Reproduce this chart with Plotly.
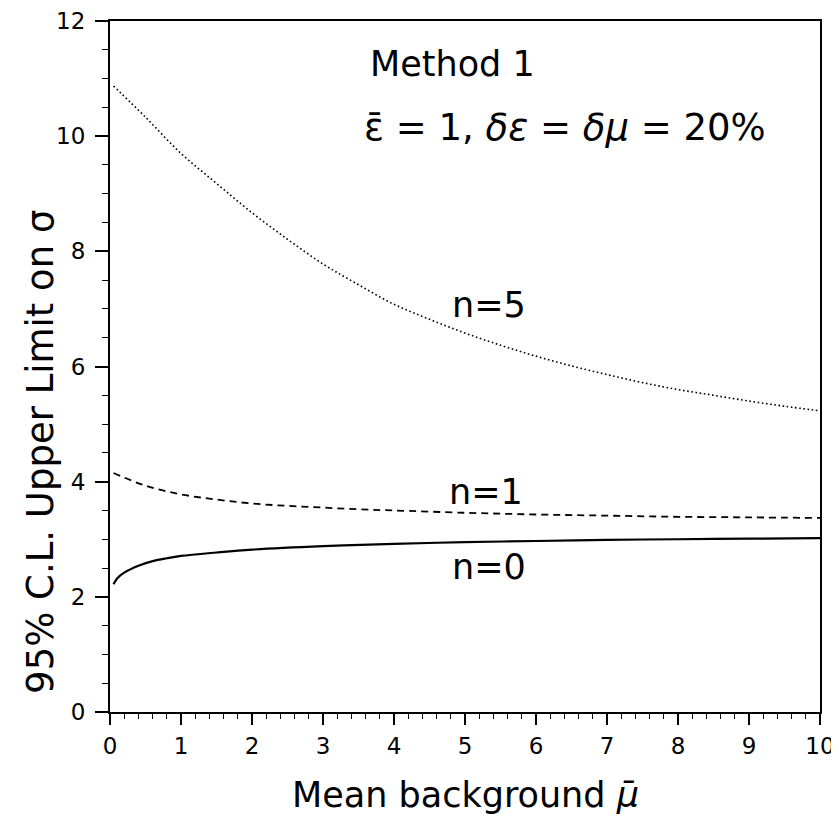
import plotly.graph_objects as go

# Mean background values and 95% C.L. upper limits
x_n0 = [0.05, 0.1, 0.2, 0.4, 0.6, 0.8, 1.0, 1.5, 2.0, 3.0, 4.0, 5.0, 6.0, 7.0, 8.0, 9.0, 10.0]
y_n0 = [2.22, 2.32, 2.42, 2.54, 2.62, 2.67, 2.71, 2.77, 2.82, 2.88, 2.92, 2.95, 2.97, 2.99, 3.00, 3.01, 3.02]

x_n1 = [0.05, 0.5, 1.0, 1.5, 2.0, 2.5, 3.0, 3.5, 4.0, 5.0, 6.0, 7.0, 8.0, 9.0, 10.0]
y_n1 = [4.15, 3.93, 3.78, 3.69, 3.62, 3.58, 3.55, 3.52, 3.50, 3.46, 3.43, 3.41, 3.39, 3.38, 3.37]

x_n5 = [0.05, 0.5, 1.0, 1.5, 2.0, 2.5, 3.0, 3.5, 4.0, 4.5, 5.0, 5.5, 6.0, 6.5, 7.0, 7.5, 8.0, 8.5, 9.0, 9.5, 10.0]
y_n5 = [10.87, 10.33, 9.70, 9.18, 8.67, 8.21, 7.78, 7.42, 7.08, 6.82, 6.58, 6.37, 6.18, 6.01, 5.86, 5.72, 5.60, 5.50, 5.40, 5.31, 5.23]

x_ticks = [0, 1, 2, 3, 4, 5, 6, 7, 8, 9, 10]
y_ticks = [0, 2, 4, 6, 8, 10, 12]

FONT = "DejaVu Sans"

fig = go.Figure()
fig.add_trace(go.Scatter(x=x_n0, y=y_n0, mode="lines", line=dict(color="black", width=2.2, shape="spline"), name="n=0"))
fig.add_trace(go.Scatter(x=x_n1, y=y_n1, mode="lines", line=dict(color="black", width=1.8, dash="7px,5px", shape="spline"), name="n=1"))
fig.add_trace(go.Scatter(x=x_n5, y=y_n5, mode="lines", line=dict(color="black", width=1.6, dash="1.6px,2.6px", shape="spline"), name="n=5"))

axis_common = dict(
    showline=True, linecolor="black", linewidth=2, mirror=True,
    ticks="outside", tickcolor="black", tickwidth=1.5,
    showgrid=False, zeroline=False, automargin=False,
    tickfont=dict(family=FONT, size=23, color="black"),
)

fig.update_xaxes(range=[0, 10], tickvals=x_ticks, ticktext=[str(v) for v in x_ticks], ticklen=11,
                 ticklabelstandoff=1,
                 minor=dict(dtick=0.2, ticks="outside", ticklen=5, tickcolor="black", tickwidth=1.2),
                 **axis_common)
fig.update_yaxes(range=[0, 12], tickvals=y_ticks, ticktext=[str(v) for v in y_ticks], ticklen=13,
                 ticklabelstandoff=5,
                 minor=dict(dtick=0.5, ticks="outside", ticklen=6, tickcolor="black", tickwidth=1.2),
                 **axis_common)

big = dict(family=FONT, size=35, color="black")
ann = [
    dict(x=3.63, y=11.25, xref="x", yref="y", text="Method 1", showarrow=False, xanchor="left", font=big),
    dict(x=3.55, y=10.15, xref="x", yref="y", text="ε̄ = 1, <i>δε</i> = <i>δμ</i> = 20%", showarrow=False, xanchor="left",
         font=dict(family=FONT, size=37, color="black")),
    dict(x=5.34, y=7.07, xref="x", yref="y", text="n=5", showarrow=False, font=big),
    dict(x=5.30, y=3.82, xref="x", yref="y", text="n=1", showarrow=False, font=big),
    dict(x=5.34, y=2.52, xref="x", yref="y", text="n=0", showarrow=False, font=big),
    dict(x=0.5, y=-0.12, xref="paper", yref="paper", text="Mean background <i>μ̄</i>", showarrow=False, font=big,
         xanchor="center", yanchor="middle"),
    dict(x=-0.099, y=0.376, xref="paper", yref="paper", text="95% C.L. Upper Limit on σ", showarrow=False,
         font=dict(family=FONT, size=37, color="black"),
         textangle=-90, xanchor="center", yanchor="middle"),
]

fig.update_layout(
    width=831, height=811,
    margin=dict(l=102, r=19, t=13, b=107),
    paper_bgcolor="white", plot_bgcolor="white",
    showlegend=False,
    annotations=ann,
)

fig.write_html("out.html")
